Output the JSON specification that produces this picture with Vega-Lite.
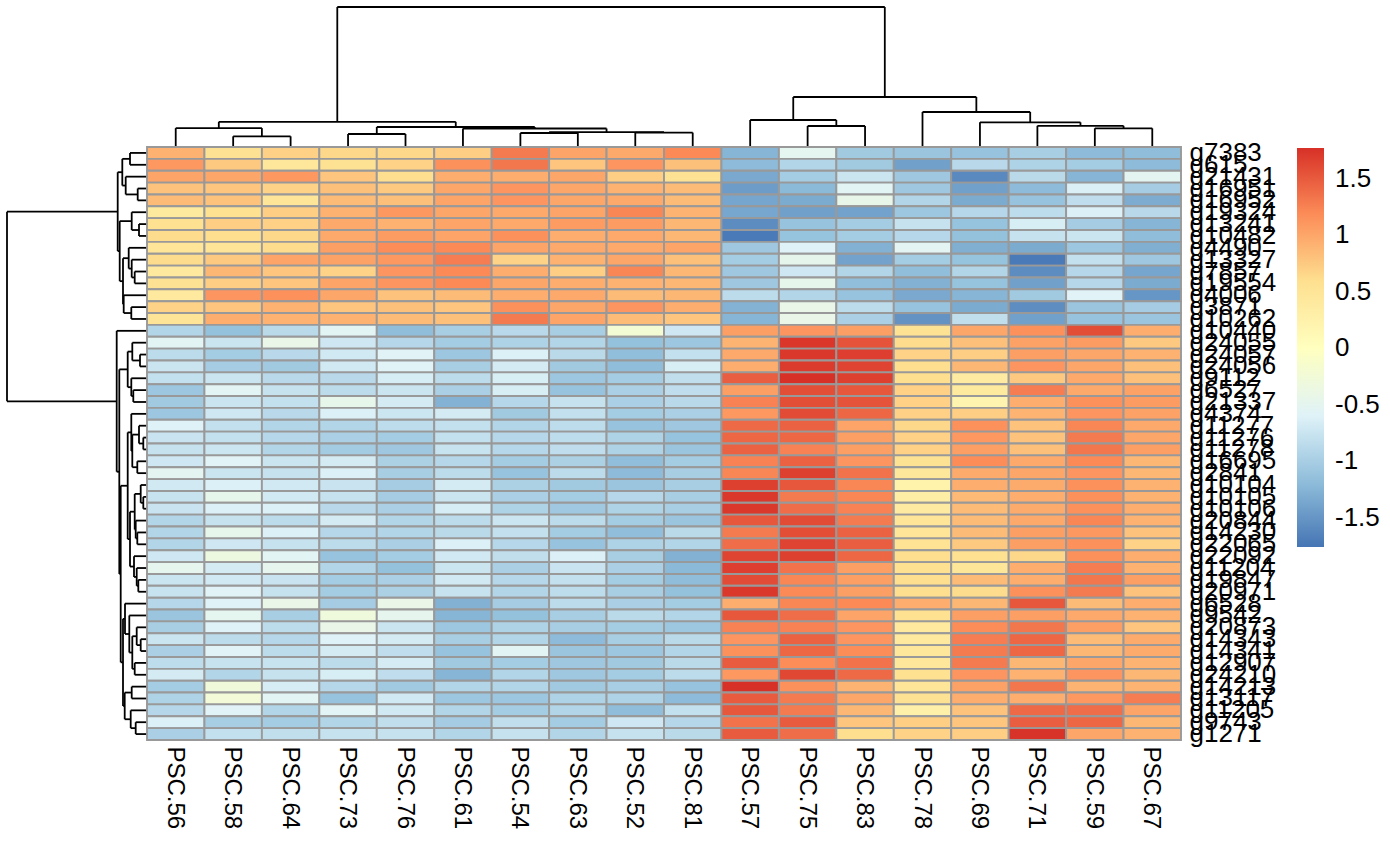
{"$schema":"https://vega.github.io/schema/vega-lite/v6.json","padding":{"left":6,"top":6,"right":0,"bottom":0},"background":"white","config":{"view":{"stroke":null},"font":"Liberation Sans"},"columns":2,"spacing":0,"bounds":"flush","concat":[
{"width":140,"height":140,"data":{"values":[]},"mark":"rect","encoding":{}},
{"width":1034,"height":140,"data":{"values":[
{"a":1.5,"b":2.5,"h":1.07,"ha":0,"hb":0},{"a":0.5,"b":2,"h":1.89,"ha":0,"hb":1.07},{"a":3.5,"b":4.5,"h":1.3,"ha":0,"hb":0},{"a":8.5,"b":9.5,"h":1.44,"ha":0,"hb":0},{"a":6.5,"b":7.5,"h":1.4,"ha":0,"hb":0},{"a":7,"b":9,"h":1.49,"ha":1.4,"hb":1.44},{"a":5.5,"b":8,"h":1.85,"ha":0,"hb":1.49},{"a":4,"b":6.75,"h":2.0,"ha":1.3,"hb":1.85},{"a":1.25,"b":5.375,"h":2.52,"ha":1.89,"hb":2.0},{"a":11.5,"b":12.5,"h":2.1,"ha":0,"hb":0},{"a":10.5,"b":12,"h":2.7,"ha":0,"hb":2.1},{"a":16.5,"b":17.5,"h":1.87,"ha":0,"hb":0},{"a":15.5,"b":17,"h":2.12,"ha":0,"hb":1.87},{"a":14.5,"b":16.25,"h":2.47,"ha":0,"hb":2.12},{"a":13.5,"b":15.375,"h":3.5,"ha":0,"hb":2.47},{"a":11.25,"b":14.4375,"h":5.0,"ha":2.7,"hb":3.5},{"a":3.3125,"b":12.84375,"h":14,"ha":2.52,"hb":5.0}]},
"layer":[
{"mark":{"type":"rule","color":"black","strokeWidth":1.8},"encoding":{"x":{"field":"a","type":"quantitative","scale":{"domain":[0,18]},"axis":null},"x2":{"field":"b"},"y":{"field":"h","type":"quantitative","scale":{"domain":[0,14]},"axis":null}}},
{"mark":{"type":"rule","color":"black","strokeWidth":1.8},"encoding":{"x":{"field":"a","type":"quantitative","scale":{"domain":[0,18]},"axis":null},"y":{"field":"h","type":"quantitative","scale":{"domain":[0,14]},"axis":null},"y2":{"field":"ha"}}},
{"mark":{"type":"rule","color":"black","strokeWidth":1.8},"encoding":{"x":{"field":"b","type":"quantitative","scale":{"domain":[0,18]},"axis":null},"y":{"field":"h","type":"quantitative","scale":{"domain":[0,14]},"axis":null},"y2":{"field":"hb"}}}
]},
{"width":140,"height":593,"data":{"values":[
{"a":0.5,"b":1.5,"h":1.7,"ha":0,"hb":0},{"a":3.5,"b":4.5,"h":0.93,"ha":0,"hb":0},{"a":2.5,"b":4,"h":2.13,"ha":0,"hb":0.93},{"a":1,"b":3.25,"h":2.47,"ha":1.7,"hb":2.13},{"a":6.5,"b":7.5,"h":0.8,"ha":0,"hb":0},{"a":5.5,"b":7,"h":1.53,"ha":0,"hb":0.8},{"a":10.5,"b":11.5,"h":1.23,"ha":0,"hb":0},{"a":9.5,"b":11,"h":1.53,"ha":0,"hb":1.23},{"a":8.5,"b":10.25,"h":1.83,"ha":0,"hb":1.53},{"a":13.5,"b":14.5,"h":1.57,"ha":0,"hb":0},{"a":12.5,"b":14,"h":2.33,"ha":0,"hb":1.57},{"a":9.375,"b":13.25,"h":2.4,"ha":1.83,"hb":2.33},{"a":6.25,"b":11.3125,"h":2.73,"ha":1.53,"hb":2.4},{"a":2.125,"b":8.78,"h":2.93,"ha":2.47,"hb":2.73},{"a":17.5,"b":18.5,"h":0.7,"ha":0,"hb":0},{"a":16.5,"b":18,"h":1.47,"ha":0,"hb":0.7},{"a":20.5,"b":21.5,"h":1.37,"ha":0,"hb":0},{"a":19.5,"b":21,"h":1.57,"ha":0,"hb":1.37},{"a":17.25,"b":20.25,"h":1.93,"ha":1.47,"hb":1.57},{"a":24.5,"b":25.5,"h":0.37,"ha":0,"hb":0},{"a":23.5,"b":25,"h":0.8,"ha":0,"hb":0.37},{"a":26.5,"b":27.5,"h":0.97,"ha":0,"hb":0},{"a":24.25,"b":27,"h":1.47,"ha":0.8,"hb":0.97},{"a":22.5,"b":25.625,"h":1.57,"ha":0,"hb":1.47},{"a":29.5,"b":30.5,"h":0.37,"ha":0,"hb":0},{"a":28.5,"b":30,"h":0.63,"ha":0,"hb":0.37},{"a":32.5,"b":33.5,"h":0.97,"ha":0,"hb":0},{"a":31.5,"b":33,"h":1.13,"ha":0,"hb":0.97},{"a":29.25,"b":32.25,"h":1.23,"ha":0.63,"hb":1.13},{"a":36.5,"b":37.5,"h":0.87,"ha":0,"hb":0},{"a":35.5,"b":37,"h":1.03,"ha":0,"hb":0.87},{"a":34.5,"b":36.25,"h":1.3,"ha":0,"hb":1.03},{"a":30.75,"b":35.375,"h":1.7,"ha":1.23,"hb":1.3},{"a":24.0625,"b":33.0625,"h":1.93,"ha":1.57,"hb":1.7},{"a":41.5,"b":42.5,"h":0.63,"ha":0,"hb":0},{"a":40.5,"b":42,"h":1.03,"ha":0,"hb":0.63},{"a":43.5,"b":44.5,"h":1.23,"ha":0,"hb":0},{"a":41.25,"b":44,"h":1.47,"ha":1.03,"hb":1.23},{"a":39.5,"b":42.625,"h":1.77,"ha":0,"hb":1.47},{"a":38.5,"b":41.0625,"h":2.2,"ha":0,"hb":1.77},{"a":45.5,"b":46.5,"h":1.53,"ha":0,"hb":0},{"a":48.5,"b":49.5,"h":1.13,"ha":0,"hb":0},{"a":47.5,"b":49,"h":1.63,"ha":0,"hb":1.13},{"a":46,"b":48.25,"h":2.23,"ha":1.53,"hb":1.63},{"a":39.78,"b":47.125,"h":2.4,"ha":2.2,"hb":2.23},{"a":28.5625,"b":43.45,"h":2.63,"ha":1.93,"hb":2.4},{"a":18.75,"b":36,"h":2.77,"ha":1.93,"hb":2.63},{"a":15.5,"b":27.38,"h":3.03,"ha":0,"hb":2.77},{"a":5.45,"b":21.44,"h":14,"ha":2.93,"hb":3.03}]},
"layer":[
{"mark":{"type":"rule","color":"black","strokeWidth":1.8},"encoding":{"y":{"field":"a","type":"quantitative","scale":{"domain":[0,50],"reverse":true},"axis":null},"y2":{"field":"b"},"x":{"field":"h","type":"quantitative","scale":{"domain":[0,14],"reverse":true},"axis":null}}},
{"mark":{"type":"rule","color":"black","strokeWidth":1.8},"encoding":{"y":{"field":"a","type":"quantitative","scale":{"domain":[0,50],"reverse":true},"axis":null},"x":{"field":"h","type":"quantitative","scale":{"domain":[0,14],"reverse":true},"axis":null},"x2":{"field":"ha"}}},
{"mark":{"type":"rule","color":"black","strokeWidth":1.8},"encoding":{"y":{"field":"b","type":"quantitative","scale":{"domain":[0,50],"reverse":true},"axis":null},"x":{"field":"h","type":"quantitative","scale":{"domain":[0,14],"reverse":true},"axis":null},"x2":{"field":"hb"}}}
]},
{"width":1034,"height":593,"data":{"values":[
{"g":"g7383","s":"PSC.56","v":0.92},{"g":"g7383","s":"PSC.58","v":0.55},{"g":"g7383","s":"PSC.64","v":0.7},{"g":"g7383","s":"PSC.73","v":0.65},{"g":"g7383","s":"PSC.76","v":0.65},{"g":"g7383","s":"PSC.61","v":0.72},{"g":"g7383","s":"PSC.54","v":1.3},{"g":"g7383","s":"PSC.63","v":1.02},{"g":"g7383","s":"PSC.52","v":0.98},{"g":"g7383","s":"PSC.81","v":1.2},{"g":"g7383","s":"PSC.57","v":-1.25},{"g":"g7383","s":"PSC.75","v":-0.5},{"g":"g7383","s":"PSC.83","v":-1.05},{"g":"g7383","s":"PSC.78","v":-1.1},{"g":"g7383","s":"PSC.69","v":-1.12},{"g":"g7383","s":"PSC.71","v":-1.0},{"g":"g7383","s":"PSC.59","v":-1.2},{"g":"g7383","s":"PSC.67","v":-1.18},
{"g":"g615","s":"PSC.56","v":1.1},{"g":"g615","s":"PSC.58","v":0.75},{"g":"g615","s":"PSC.64","v":0.45},{"g":"g615","s":"PSC.73","v":0.55},{"g":"g615","s":"PSC.76","v":0.68},{"g":"g615","s":"PSC.61","v":1.15},{"g":"g615","s":"PSC.54","v":1.32},{"g":"g615","s":"PSC.63","v":0.78},{"g":"g615","s":"PSC.52","v":1.12},{"g":"g615","s":"PSC.81","v":0.82},{"g":"g615","s":"PSC.57","v":-1.2},{"g":"g615","s":"PSC.75","v":-0.92},{"g":"g615","s":"PSC.83","v":-1.05},{"g":"g615","s":"PSC.78","v":-1.42},{"g":"g615","s":"PSC.69","v":-0.88},{"g":"g615","s":"PSC.71","v":-0.95},{"g":"g615","s":"PSC.59","v":-1.03},{"g":"g615","s":"PSC.67","v":-1.2},
{"g":"g21431","s":"PSC.56","v":1.02},{"g":"g21431","s":"PSC.58","v":1.0},{"g":"g21431","s":"PSC.64","v":1.1},{"g":"g21431","s":"PSC.73","v":0.78},{"g":"g21431","s":"PSC.76","v":0.6},{"g":"g21431","s":"PSC.61","v":0.95},{"g":"g21431","s":"PSC.54","v":0.95},{"g":"g21431","s":"PSC.63","v":1.0},{"g":"g21431","s":"PSC.52","v":0.72},{"g":"g21431","s":"PSC.81","v":0.55},{"g":"g21431","s":"PSC.57","v":-1.35},{"g":"g21431","s":"PSC.75","v":-1.03},{"g":"g21431","s":"PSC.83","v":-0.75},{"g":"g21431","s":"PSC.78","v":-1.07},{"g":"g21431","s":"PSC.69","v":-1.6},{"g":"g21431","s":"PSC.71","v":-0.87},{"g":"g21431","s":"PSC.59","v":-1.25},{"g":"g21431","s":"PSC.67","v":-0.52},
{"g":"g16951","s":"PSC.56","v":0.8},{"g":"g16951","s":"PSC.58","v":0.78},{"g":"g16951","s":"PSC.64","v":0.68},{"g":"g16951","s":"PSC.73","v":0.82},{"g":"g16951","s":"PSC.76","v":0.76},{"g":"g16951","s":"PSC.61","v":1.0},{"g":"g16951","s":"PSC.54","v":1.12},{"g":"g16951","s":"PSC.63","v":1.0},{"g":"g16951","s":"PSC.52","v":0.92},{"g":"g16951","s":"PSC.81","v":0.85},{"g":"g16951","s":"PSC.57","v":-1.45},{"g":"g16951","s":"PSC.75","v":-1.22},{"g":"g16951","s":"PSC.83","v":-0.55},{"g":"g16951","s":"PSC.78","v":-1.07},{"g":"g16951","s":"PSC.69","v":-1.42},{"g":"g16951","s":"PSC.71","v":-1.2},{"g":"g16951","s":"PSC.59","v":-0.63},{"g":"g16951","s":"PSC.67","v":-1.02},
{"g":"g16952","s":"PSC.56","v":0.85},{"g":"g16952","s":"PSC.58","v":0.8},{"g":"g16952","s":"PSC.64","v":0.5},{"g":"g16952","s":"PSC.73","v":0.85},{"g":"g16952","s":"PSC.76","v":0.82},{"g":"g16952","s":"PSC.61","v":1.02},{"g":"g16952","s":"PSC.54","v":1.12},{"g":"g16952","s":"PSC.63","v":1.0},{"g":"g16952","s":"PSC.52","v":0.98},{"g":"g16952","s":"PSC.81","v":0.85},{"g":"g16952","s":"PSC.57","v":-1.38},{"g":"g16952","s":"PSC.75","v":-1.33},{"g":"g16952","s":"PSC.83","v":-0.43},{"g":"g16952","s":"PSC.78","v":-0.93},{"g":"g16952","s":"PSC.69","v":-1.33},{"g":"g16952","s":"PSC.71","v":-1.12},{"g":"g16952","s":"PSC.59","v":-0.83},{"g":"g16952","s":"PSC.67","v":-1.32},
{"g":"g19324","s":"PSC.56","v":0.4},{"g":"g19324","s":"PSC.58","v":0.58},{"g":"g19324","s":"PSC.64","v":0.72},{"g":"g19324","s":"PSC.73","v":0.92},{"g":"g19324","s":"PSC.76","v":1.1},{"g":"g19324","s":"PSC.61","v":1.0},{"g":"g19324","s":"PSC.54","v":0.98},{"g":"g19324","s":"PSC.63","v":1.02},{"g":"g19324","s":"PSC.52","v":1.22},{"g":"g19324","s":"PSC.81","v":0.9},{"g":"g19324","s":"PSC.57","v":-1.37},{"g":"g19324","s":"PSC.75","v":-1.42},{"g":"g19324","s":"PSC.83","v":-1.4},{"g":"g19324","s":"PSC.78","v":-1.08},{"g":"g19324","s":"PSC.69","v":-0.9},{"g":"g19324","s":"PSC.71","v":-0.84},{"g":"g19324","s":"PSC.59","v":-0.62},{"g":"g19324","s":"PSC.67","v":-0.88},
{"g":"g13241","s":"PSC.56","v":0.58},{"g":"g13241","s":"PSC.58","v":0.72},{"g":"g13241","s":"PSC.64","v":0.7},{"g":"g13241","s":"PSC.73","v":0.98},{"g":"g13241","s":"PSC.76","v":0.92},{"g":"g13241","s":"PSC.61","v":1.02},{"g":"g13241","s":"PSC.54","v":0.98},{"g":"g13241","s":"PSC.63","v":1.08},{"g":"g13241","s":"PSC.52","v":1.08},{"g":"g13241","s":"PSC.81","v":0.88},{"g":"g13241","s":"PSC.57","v":-1.58},{"g":"g13241","s":"PSC.75","v":-1.12},{"g":"g13241","s":"PSC.83","v":-1.03},{"g":"g13241","s":"PSC.78","v":-0.78},{"g":"g13241","s":"PSC.69","v":-1.13},{"g":"g13241","s":"PSC.71","v":-0.65},{"g":"g13241","s":"PSC.59","v":-1.02},{"g":"g13241","s":"PSC.67","v":-1.25},
{"g":"g10482","s":"PSC.56","v":0.62},{"g":"g10482","s":"PSC.58","v":0.6},{"g":"g10482","s":"PSC.64","v":0.65},{"g":"g10482","s":"PSC.73","v":0.98},{"g":"g10482","s":"PSC.76","v":1.08},{"g":"g10482","s":"PSC.61","v":1.02},{"g":"g10482","s":"PSC.54","v":1.15},{"g":"g10482","s":"PSC.63","v":0.95},{"g":"g10482","s":"PSC.52","v":0.98},{"g":"g10482","s":"PSC.81","v":0.88},{"g":"g10482","s":"PSC.57","v":-1.72},{"g":"g10482","s":"PSC.75","v":-1.13},{"g":"g10482","s":"PSC.83","v":-1.03},{"g":"g10482","s":"PSC.78","v":-0.9},{"g":"g10482","s":"PSC.69","v":-1.15},{"g":"g10482","s":"PSC.71","v":-0.78},{"g":"g10482","s":"PSC.59","v":-0.75},{"g":"g10482","s":"PSC.67","v":-1.18},
{"g":"g4490","s":"PSC.56","v":0.5},{"g":"g4490","s":"PSC.58","v":0.52},{"g":"g4490","s":"PSC.64","v":0.62},{"g":"g4490","s":"PSC.73","v":1.05},{"g":"g4490","s":"PSC.76","v":1.18},{"g":"g4490","s":"PSC.61","v":1.2},{"g":"g4490","s":"PSC.54","v":1.02},{"g":"g4490","s":"PSC.63","v":0.98},{"g":"g4490","s":"PSC.52","v":0.98},{"g":"g4490","s":"PSC.81","v":1.02},{"g":"g4490","s":"PSC.57","v":-1.07},{"g":"g4490","s":"PSC.75","v":-0.6},{"g":"g4490","s":"PSC.83","v":-1.28},{"g":"g4490","s":"PSC.78","v":-0.53},{"g":"g4490","s":"PSC.69","v":-1.3},{"g":"g4490","s":"PSC.71","v":-1.33},{"g":"g4490","s":"PSC.59","v":-1.08},{"g":"g4490","s":"PSC.67","v":-1.3},
{"g":"g13327","s":"PSC.56","v":0.62},{"g":"g13327","s":"PSC.58","v":0.75},{"g":"g13327","s":"PSC.64","v":1.02},{"g":"g13327","s":"PSC.73","v":1.03},{"g":"g13327","s":"PSC.76","v":1.1},{"g":"g13327","s":"PSC.61","v":1.28},{"g":"g13327","s":"PSC.54","v":0.68},{"g":"g13327","s":"PSC.63","v":0.92},{"g":"g13327","s":"PSC.52","v":1.0},{"g":"g13327","s":"PSC.81","v":0.82},{"g":"g13327","s":"PSC.57","v":-1.03},{"g":"g13327","s":"PSC.75","v":-0.47},{"g":"g13327","s":"PSC.83","v":-1.4},{"g":"g13327","s":"PSC.78","v":-1.03},{"g":"g13327","s":"PSC.69","v":-1.13},{"g":"g13327","s":"PSC.71","v":-1.72},{"g":"g13327","s":"PSC.59","v":-0.8},{"g":"g13327","s":"PSC.67","v":-1.07},
{"g":"g7857","s":"PSC.56","v":0.42},{"g":"g7857","s":"PSC.58","v":0.88},{"g":"g7857","s":"PSC.64","v":0.78},{"g":"g7857","s":"PSC.73","v":0.68},{"g":"g7857","s":"PSC.76","v":1.12},{"g":"g7857","s":"PSC.61","v":1.2},{"g":"g7857","s":"PSC.54","v":0.95},{"g":"g7857","s":"PSC.63","v":0.72},{"g":"g7857","s":"PSC.52","v":1.22},{"g":"g7857","s":"PSC.81","v":0.88},{"g":"g7857","s":"PSC.57","v":-1.07},{"g":"g7857","s":"PSC.75","v":-0.72},{"g":"g7857","s":"PSC.83","v":-0.93},{"g":"g7857","s":"PSC.78","v":-1.17},{"g":"g7857","s":"PSC.69","v":-0.93},{"g":"g7857","s":"PSC.71","v":-1.58},{"g":"g7857","s":"PSC.59","v":-0.9},{"g":"g7857","s":"PSC.67","v":-1.38},
{"g":"g19554","s":"PSC.56","v":0.55},{"g":"g19554","s":"PSC.58","v":0.72},{"g":"g19554","s":"PSC.64","v":0.78},{"g":"g19554","s":"PSC.73","v":1.02},{"g":"g19554","s":"PSC.76","v":1.12},{"g":"g19554","s":"PSC.61","v":1.2},{"g":"g19554","s":"PSC.54","v":1.0},{"g":"g19554","s":"PSC.63","v":0.95},{"g":"g19554","s":"PSC.52","v":0.92},{"g":"g19554","s":"PSC.81","v":0.88},{"g":"g19554","s":"PSC.57","v":-1.07},{"g":"g19554","s":"PSC.75","v":-0.45},{"g":"g19554","s":"PSC.83","v":-1.17},{"g":"g19554","s":"PSC.78","v":-1.28},{"g":"g19554","s":"PSC.69","v":-1.13},{"g":"g19554","s":"PSC.71","v":-1.42},{"g":"g19554","s":"PSC.59","v":-0.9},{"g":"g19554","s":"PSC.67","v":-1.33},
{"g":"g4006","s":"PSC.56","v":0.42},{"g":"g4006","s":"PSC.58","v":1.12},{"g":"g4006","s":"PSC.64","v":1.15},{"g":"g4006","s":"PSC.73","v":1.0},{"g":"g4006","s":"PSC.76","v":0.8},{"g":"g4006","s":"PSC.61","v":0.85},{"g":"g4006","s":"PSC.54","v":0.95},{"g":"g4006","s":"PSC.63","v":0.98},{"g":"g4006","s":"PSC.52","v":0.85},{"g":"g4006","s":"PSC.81","v":0.88},{"g":"g4006","s":"PSC.57","v":-0.85},{"g":"g4006","s":"PSC.75","v":-0.92},{"g":"g4006","s":"PSC.83","v":-1.12},{"g":"g4006","s":"PSC.78","v":-1.35},{"g":"g4006","s":"PSC.69","v":-1.25},{"g":"g4006","s":"PSC.71","v":-1.05},{"g":"g4006","s":"PSC.59","v":-0.58},{"g":"g4006","s":"PSC.67","v":-1.5},
{"g":"g3871","s":"PSC.56","v":0.68},{"g":"g3871","s":"PSC.58","v":0.78},{"g":"g3871","s":"PSC.64","v":0.92},{"g":"g3871","s":"PSC.73","v":0.78},{"g":"g3871","s":"PSC.76","v":0.82},{"g":"g3871","s":"PSC.61","v":0.78},{"g":"g3871","s":"PSC.54","v":1.15},{"g":"g3871","s":"PSC.63","v":1.0},{"g":"g3871","s":"PSC.52","v":1.12},{"g":"g3871","s":"PSC.81","v":0.95},{"g":"g3871","s":"PSC.57","v":-1.27},{"g":"g3871","s":"PSC.75","v":-0.42},{"g":"g3871","s":"PSC.83","v":-0.85},{"g":"g3871","s":"PSC.78","v":-1.12},{"g":"g3871","s":"PSC.69","v":-1.33},{"g":"g3871","s":"PSC.71","v":-1.57},{"g":"g3871","s":"PSC.59","v":-1.1},{"g":"g3871","s":"PSC.67","v":-1.02},
{"g":"g10262","s":"PSC.56","v":0.52},{"g":"g10262","s":"PSC.58","v":0.95},{"g":"g10262","s":"PSC.64","v":0.92},{"g":"g10262","s":"PSC.73","v":0.92},{"g":"g10262","s":"PSC.76","v":0.85},{"g":"g10262","s":"PSC.61","v":0.82},{"g":"g10262","s":"PSC.54","v":1.3},{"g":"g10262","s":"PSC.63","v":1.02},{"g":"g10262","s":"PSC.52","v":0.85},{"g":"g10262","s":"PSC.81","v":0.78},{"g":"g10262","s":"PSC.57","v":-1.25},{"g":"g10262","s":"PSC.75","v":-0.42},{"g":"g10262","s":"PSC.83","v":-0.98},{"g":"g10262","s":"PSC.78","v":-1.53},{"g":"g10262","s":"PSC.69","v":-0.82},{"g":"g10262","s":"PSC.71","v":-1.42},{"g":"g10262","s":"PSC.59","v":-1.12},{"g":"g10262","s":"PSC.67","v":-1.1},
{"g":"g10440","s":"PSC.56","v":-0.92},{"g":"g10440","s":"PSC.58","v":-1.15},{"g":"g10440","s":"PSC.64","v":-0.87},{"g":"g10440","s":"PSC.73","v":-0.55},{"g":"g10440","s":"PSC.76","v":-1.18},{"g":"g10440","s":"PSC.61","v":-1.0},{"g":"g10440","s":"PSC.54","v":-0.88},{"g":"g10440","s":"PSC.63","v":-1.0},{"g":"g10440","s":"PSC.52","v":-0.22},{"g":"g10440","s":"PSC.81","v":-0.72},{"g":"g10440","s":"PSC.57","v":1.05},{"g":"g10440","s":"PSC.75","v":1.12},{"g":"g10440","s":"PSC.83","v":1.05},{"g":"g10440","s":"PSC.78","v":0.55},{"g":"g10440","s":"PSC.69","v":1.0},{"g":"g10440","s":"PSC.71","v":1.15},{"g":"g10440","s":"PSC.59","v":1.58},{"g":"g10440","s":"PSC.67","v":0.95},
{"g":"g24055","s":"PSC.56","v":-0.55},{"g":"g24055","s":"PSC.58","v":-0.75},{"g":"g24055","s":"PSC.64","v":-0.42},{"g":"g24055","s":"PSC.73","v":-0.72},{"g":"g24055","s":"PSC.76","v":-0.9},{"g":"g24055","s":"PSC.61","v":-1.03},{"g":"g24055","s":"PSC.54","v":-0.95},{"g":"g24055","s":"PSC.63","v":-0.93},{"g":"g24055","s":"PSC.52","v":-1.15},{"g":"g24055","s":"PSC.81","v":-1.08},{"g":"g24055","s":"PSC.57","v":0.9},{"g":"g24055","s":"PSC.75","v":1.73},{"g":"g24055","s":"PSC.83","v":1.55},{"g":"g24055","s":"PSC.78","v":0.62},{"g":"g24055","s":"PSC.69","v":0.82},{"g":"g24055","s":"PSC.71","v":1.03},{"g":"g24055","s":"PSC.59","v":1.08},{"g":"g24055","s":"PSC.67","v":0.75},
{"g":"g24057","s":"PSC.56","v":-0.85},{"g":"g24057","s":"PSC.58","v":-1.03},{"g":"g24057","s":"PSC.64","v":-0.88},{"g":"g24057","s":"PSC.73","v":-0.7},{"g":"g24057","s":"PSC.76","v":-0.58},{"g":"g24057","s":"PSC.61","v":-1.08},{"g":"g24057","s":"PSC.54","v":-0.62},{"g":"g24057","s":"PSC.63","v":-0.87},{"g":"g24057","s":"PSC.52","v":-1.17},{"g":"g24057","s":"PSC.81","v":-0.8},{"g":"g24057","s":"PSC.57","v":0.98},{"g":"g24057","s":"PSC.75","v":1.72},{"g":"g24057","s":"PSC.83","v":1.68},{"g":"g24057","s":"PSC.78","v":0.68},{"g":"g24057","s":"PSC.69","v":0.72},{"g":"g24057","s":"PSC.71","v":1.05},{"g":"g24057","s":"PSC.59","v":1.0},{"g":"g24057","s":"PSC.67","v":0.92},
{"g":"g24056","s":"PSC.56","v":-0.75},{"g":"g24056","s":"PSC.58","v":-1.02},{"g":"g24056","s":"PSC.64","v":-1.05},{"g":"g24056","s":"PSC.73","v":-0.7},{"g":"g24056","s":"PSC.76","v":-0.57},{"g":"g24056","s":"PSC.61","v":-1.0},{"g":"g24056","s":"PSC.54","v":-0.68},{"g":"g24056","s":"PSC.63","v":-1.05},{"g":"g24056","s":"PSC.52","v":-1.18},{"g":"g24056","s":"PSC.81","v":-0.65},{"g":"g24056","s":"PSC.57","v":0.95},{"g":"g24056","s":"PSC.75","v":1.7},{"g":"g24056","s":"PSC.83","v":1.65},{"g":"g24056","s":"PSC.78","v":0.6},{"g":"g24056","s":"PSC.69","v":0.88},{"g":"g24056","s":"PSC.71","v":1.12},{"g":"g24056","s":"PSC.59","v":1.0},{"g":"g24056","s":"PSC.67","v":0.82},
{"g":"g9112","s":"PSC.56","v":-0.8},{"g":"g9112","s":"PSC.58","v":-0.75},{"g":"g9112","s":"PSC.64","v":-0.88},{"g":"g9112","s":"PSC.73","v":-0.88},{"g":"g9112","s":"PSC.76","v":-0.66},{"g":"g9112","s":"PSC.61","v":-0.85},{"g":"g9112","s":"PSC.54","v":-0.65},{"g":"g9112","s":"PSC.63","v":-1.08},{"g":"g9112","s":"PSC.52","v":-1.03},{"g":"g9112","s":"PSC.81","v":-0.82},{"g":"g9112","s":"PSC.57","v":1.48},{"g":"g9112","s":"PSC.75","v":1.77},{"g":"g9112","s":"PSC.83","v":1.67},{"g":"g9112","s":"PSC.78","v":0.6},{"g":"g9112","s":"PSC.69","v":0.38},{"g":"g9112","s":"PSC.71","v":0.75},{"g":"g9112","s":"PSC.59","v":0.98},{"g":"g9112","s":"PSC.67","v":0.82},
{"g":"g6527","s":"PSC.56","v":-1.08},{"g":"g6527","s":"PSC.58","v":-0.55},{"g":"g6527","s":"PSC.64","v":-0.78},{"g":"g6527","s":"PSC.73","v":-0.85},{"g":"g6527","s":"PSC.76","v":-0.75},{"g":"g6527","s":"PSC.61","v":-0.98},{"g":"g6527","s":"PSC.54","v":-0.65},{"g":"g6527","s":"PSC.63","v":-1.12},{"g":"g6527","s":"PSC.52","v":-0.98},{"g":"g6527","s":"PSC.81","v":-0.83},{"g":"g6527","s":"PSC.57","v":1.05},{"g":"g6527","s":"PSC.75","v":1.58},{"g":"g6527","s":"PSC.83","v":1.52},{"g":"g6527","s":"PSC.78","v":0.7},{"g":"g6527","s":"PSC.69","v":0.4},{"g":"g6527","s":"PSC.71","v":1.28},{"g":"g6527","s":"PSC.59","v":0.98},{"g":"g6527","s":"PSC.67","v":1.03},
{"g":"g21337","s":"PSC.56","v":-1.05},{"g":"g21337","s":"PSC.58","v":-0.75},{"g":"g21337","s":"PSC.64","v":-0.8},{"g":"g21337","s":"PSC.73","v":-0.45},{"g":"g21337","s":"PSC.76","v":-0.68},{"g":"g21337","s":"PSC.61","v":-1.27},{"g":"g21337","s":"PSC.54","v":-0.9},{"g":"g21337","s":"PSC.63","v":-0.78},{"g":"g21337","s":"PSC.52","v":-0.98},{"g":"g21337","s":"PSC.81","v":-0.88},{"g":"g21337","s":"PSC.57","v":1.25},{"g":"g21337","s":"PSC.75","v":1.58},{"g":"g21337","s":"PSC.83","v":1.55},{"g":"g21337","s":"PSC.78","v":0.7},{"g":"g21337","s":"PSC.69","v":0.2},{"g":"g21337","s":"PSC.71","v":0.95},{"g":"g21337","s":"PSC.59","v":1.15},{"g":"g21337","s":"PSC.67","v":1.08},
{"g":"g4374","s":"PSC.56","v":-1.08},{"g":"g4374","s":"PSC.58","v":-0.72},{"g":"g4374","s":"PSC.64","v":-0.88},{"g":"g4374","s":"PSC.73","v":-0.62},{"g":"g4374","s":"PSC.76","v":-0.74},{"g":"g4374","s":"PSC.61","v":-0.68},{"g":"g4374","s":"PSC.54","v":-1.05},{"g":"g4374","s":"PSC.63","v":-0.8},{"g":"g4374","s":"PSC.52","v":-1.03},{"g":"g4374","s":"PSC.81","v":-0.98},{"g":"g4374","s":"PSC.57","v":1.1},{"g":"g4374","s":"PSC.75","v":1.6},{"g":"g4374","s":"PSC.83","v":1.42},{"g":"g4374","s":"PSC.78","v":0.7},{"g":"g4374","s":"PSC.69","v":0.72},{"g":"g4374","s":"PSC.71","v":0.9},{"g":"g4374","s":"PSC.59","v":1.12},{"g":"g4374","s":"PSC.67","v":1.03},
{"g":"g11277","s":"PSC.56","v":-0.6},{"g":"g11277","s":"PSC.58","v":-0.8},{"g":"g11277","s":"PSC.64","v":-0.93},{"g":"g11277","s":"PSC.73","v":-0.92},{"g":"g11277","s":"PSC.76","v":-0.84},{"g":"g11277","s":"PSC.61","v":-0.8},{"g":"g11277","s":"PSC.54","v":-0.93},{"g":"g11277","s":"PSC.63","v":-0.84},{"g":"g11277","s":"PSC.52","v":-1.12},{"g":"g11277","s":"PSC.81","v":-1.07},{"g":"g11277","s":"PSC.57","v":1.4},{"g":"g11277","s":"PSC.75","v":1.45},{"g":"g11277","s":"PSC.83","v":1.02},{"g":"g11277","s":"PSC.78","v":0.65},{"g":"g11277","s":"PSC.69","v":1.15},{"g":"g11277","s":"PSC.71","v":0.8},{"g":"g11277","s":"PSC.59","v":1.22},{"g":"g11277","s":"PSC.67","v":0.98},
{"g":"g11276","s":"PSC.56","v":-0.76},{"g":"g11276","s":"PSC.58","v":-0.8},{"g":"g11276","s":"PSC.64","v":-0.9},{"g":"g11276","s":"PSC.73","v":-0.98},{"g":"g11276","s":"PSC.76","v":-1.03},{"g":"g11276","s":"PSC.61","v":-0.8},{"g":"g11276","s":"PSC.54","v":-0.9},{"g":"g11276","s":"PSC.63","v":-0.84},{"g":"g11276","s":"PSC.52","v":-0.95},{"g":"g11276","s":"PSC.81","v":-1.13},{"g":"g11276","s":"PSC.57","v":1.42},{"g":"g11276","s":"PSC.75","v":1.42},{"g":"g11276","s":"PSC.83","v":1.05},{"g":"g11276","s":"PSC.78","v":0.7},{"g":"g11276","s":"PSC.69","v":1.1},{"g":"g11276","s":"PSC.71","v":0.8},{"g":"g11276","s":"PSC.59","v":1.3},{"g":"g11276","s":"PSC.67","v":1.0},
{"g":"g11278","s":"PSC.56","v":-0.78},{"g":"g11278","s":"PSC.58","v":-0.74},{"g":"g11278","s":"PSC.64","v":-0.93},{"g":"g11278","s":"PSC.73","v":-1.04},{"g":"g11278","s":"PSC.76","v":-1.07},{"g":"g11278","s":"PSC.61","v":-0.77},{"g":"g11278","s":"PSC.54","v":-0.9},{"g":"g11278","s":"PSC.63","v":-0.83},{"g":"g11278","s":"PSC.52","v":-0.95},{"g":"g11278","s":"PSC.81","v":-1.1},{"g":"g11278","s":"PSC.57","v":1.45},{"g":"g11278","s":"PSC.75","v":1.25},{"g":"g11278","s":"PSC.83","v":1.05},{"g":"g11278","s":"PSC.78","v":0.7},{"g":"g11278","s":"PSC.69","v":1.05},{"g":"g11278","s":"PSC.71","v":0.82},{"g":"g11278","s":"PSC.59","v":1.32},{"g":"g11278","s":"PSC.67","v":1.05},
{"g":"g16695","s":"PSC.56","v":-0.72},{"g":"g16695","s":"PSC.58","v":-0.57},{"g":"g16695","s":"PSC.64","v":-0.75},{"g":"g16695","s":"PSC.73","v":-0.68},{"g":"g16695","s":"PSC.76","v":-0.97},{"g":"g16695","s":"PSC.61","v":-0.9},{"g":"g16695","s":"PSC.54","v":-1.03},{"g":"g16695","s":"PSC.63","v":-0.97},{"g":"g16695","s":"PSC.52","v":-1.17},{"g":"g16695","s":"PSC.81","v":-1.03},{"g":"g16695","s":"PSC.57","v":1.25},{"g":"g16695","s":"PSC.75","v":1.45},{"g":"g16695","s":"PSC.83","v":1.12},{"g":"g16695","s":"PSC.78","v":0.55},{"g":"g16695","s":"PSC.69","v":1.18},{"g":"g16695","s":"PSC.71","v":0.98},{"g":"g16695","s":"PSC.59","v":1.2},{"g":"g16695","s":"PSC.67","v":0.88},
{"g":"g2841","s":"PSC.56","v":-0.52},{"g":"g2841","s":"PSC.58","v":-0.75},{"g":"g2841","s":"PSC.64","v":-0.78},{"g":"g2841","s":"PSC.73","v":-0.62},{"g":"g2841","s":"PSC.76","v":-1.0},{"g":"g2841","s":"PSC.61","v":-0.85},{"g":"g2841","s":"PSC.54","v":-1.12},{"g":"g2841","s":"PSC.63","v":-0.85},{"g":"g2841","s":"PSC.52","v":-1.2},{"g":"g2841","s":"PSC.81","v":-1.0},{"g":"g2841","s":"PSC.57","v":1.22},{"g":"g2841","s":"PSC.75","v":1.67},{"g":"g2841","s":"PSC.83","v":1.35},{"g":"g2841","s":"PSC.78","v":0.45},{"g":"g2841","s":"PSC.69","v":0.97},{"g":"g2841","s":"PSC.71","v":1.0},{"g":"g2841","s":"PSC.59","v":1.12},{"g":"g2841","s":"PSC.67","v":0.88},
{"g":"g10104","s":"PSC.56","v":-0.7},{"g":"g10104","s":"PSC.58","v":-0.62},{"g":"g10104","s":"PSC.64","v":-0.7},{"g":"g10104","s":"PSC.73","v":-0.76},{"g":"g10104","s":"PSC.76","v":-1.02},{"g":"g10104","s":"PSC.61","v":-0.68},{"g":"g10104","s":"PSC.54","v":-0.97},{"g":"g10104","s":"PSC.63","v":-1.05},{"g":"g10104","s":"PSC.52","v":-1.1},{"g":"g10104","s":"PSC.81","v":-1.0},{"g":"g10104","s":"PSC.57","v":1.67},{"g":"g10104","s":"PSC.75","v":1.52},{"g":"g10104","s":"PSC.83","v":1.22},{"g":"g10104","s":"PSC.78","v":0.25},{"g":"g10104","s":"PSC.69","v":0.95},{"g":"g10104","s":"PSC.71","v":0.97},{"g":"g10104","s":"PSC.59","v":1.15},{"g":"g10104","s":"PSC.67","v":0.92},
{"g":"g10105","s":"PSC.56","v":-0.77},{"g":"g10105","s":"PSC.58","v":-0.45},{"g":"g10105","s":"PSC.64","v":-0.7},{"g":"g10105","s":"PSC.73","v":-0.78},{"g":"g10105","s":"PSC.76","v":-1.02},{"g":"g10105","s":"PSC.61","v":-0.75},{"g":"g10105","s":"PSC.54","v":-0.98},{"g":"g10105","s":"PSC.63","v":-1.03},{"g":"g10105","s":"PSC.52","v":-0.9},{"g":"g10105","s":"PSC.81","v":-1.0},{"g":"g10105","s":"PSC.57","v":1.72},{"g":"g10105","s":"PSC.75","v":1.3},{"g":"g10105","s":"PSC.83","v":1.22},{"g":"g10105","s":"PSC.78","v":0.33},{"g":"g10105","s":"PSC.69","v":0.87},{"g":"g10105","s":"PSC.71","v":0.95},{"g":"g10105","s":"PSC.59","v":1.15},{"g":"g10105","s":"PSC.67","v":0.92},
{"g":"g10106","s":"PSC.56","v":-0.76},{"g":"g10106","s":"PSC.58","v":-0.62},{"g":"g10106","s":"PSC.64","v":-0.62},{"g":"g10106","s":"PSC.73","v":-0.88},{"g":"g10106","s":"PSC.76","v":-0.98},{"g":"g10106","s":"PSC.61","v":-0.66},{"g":"g10106","s":"PSC.54","v":-0.95},{"g":"g10106","s":"PSC.63","v":-1.06},{"g":"g10106","s":"PSC.52","v":-0.95},{"g":"g10106","s":"PSC.81","v":-1.0},{"g":"g10106","s":"PSC.57","v":1.72},{"g":"g10106","s":"PSC.75","v":1.38},{"g":"g10106","s":"PSC.83","v":1.25},{"g":"g10106","s":"PSC.78","v":0.38},{"g":"g10106","s":"PSC.69","v":0.85},{"g":"g10106","s":"PSC.71","v":0.97},{"g":"g10106","s":"PSC.59","v":1.15},{"g":"g10106","s":"PSC.67","v":0.95},
{"g":"g20844","s":"PSC.56","v":-0.92},{"g":"g20844","s":"PSC.58","v":-0.78},{"g":"g20844","s":"PSC.64","v":-0.85},{"g":"g20844","s":"PSC.73","v":-0.68},{"g":"g20844","s":"PSC.76","v":-0.93},{"g":"g20844","s":"PSC.61","v":-0.85},{"g":"g20844","s":"PSC.54","v":-0.74},{"g":"g20844","s":"PSC.63","v":-0.85},{"g":"g20844","s":"PSC.52","v":-1.03},{"g":"g20844","s":"PSC.81","v":-1.1},{"g":"g20844","s":"PSC.57","v":1.52},{"g":"g20844","s":"PSC.75","v":1.6},{"g":"g20844","s":"PSC.83","v":1.3},{"g":"g20844","s":"PSC.78","v":0.5},{"g":"g20844","s":"PSC.69","v":0.85},{"g":"g20844","s":"PSC.71","v":0.98},{"g":"g20844","s":"PSC.59","v":1.22},{"g":"g20844","s":"PSC.67","v":0.92},
{"g":"g14230","s":"PSC.56","v":-0.93},{"g":"g14230","s":"PSC.58","v":-0.45},{"g":"g14230","s":"PSC.64","v":-0.62},{"g":"g14230","s":"PSC.73","v":-0.9},{"g":"g14230","s":"PSC.76","v":-0.93},{"g":"g14230","s":"PSC.61","v":-0.87},{"g":"g14230","s":"PSC.54","v":-0.8},{"g":"g14230","s":"PSC.63","v":-1.03},{"g":"g14230","s":"PSC.52","v":-1.17},{"g":"g14230","s":"PSC.81","v":-0.87},{"g":"g14230","s":"PSC.57","v":1.3},{"g":"g14230","s":"PSC.75","v":1.58},{"g":"g14230","s":"PSC.83","v":1.45},{"g":"g14230","s":"PSC.78","v":0.5},{"g":"g14230","s":"PSC.69","v":0.85},{"g":"g14230","s":"PSC.71","v":1.05},{"g":"g14230","s":"PSC.59","v":1.1},{"g":"g14230","s":"PSC.67","v":0.8},
{"g":"g22065","s":"PSC.56","v":-0.92},{"g":"g22065","s":"PSC.58","v":-0.72},{"g":"g22065","s":"PSC.64","v":-0.78},{"g":"g22065","s":"PSC.73","v":-0.85},{"g":"g22065","s":"PSC.76","v":-0.98},{"g":"g22065","s":"PSC.61","v":-0.62},{"g":"g22065","s":"PSC.54","v":-0.9},{"g":"g22065","s":"PSC.63","v":-1.12},{"g":"g22065","s":"PSC.52","v":-0.95},{"g":"g22065","s":"PSC.81","v":-0.93},{"g":"g22065","s":"PSC.57","v":1.38},{"g":"g22065","s":"PSC.75","v":1.65},{"g":"g22065","s":"PSC.83","v":1.48},{"g":"g22065","s":"PSC.78","v":0.53},{"g":"g22065","s":"PSC.69","v":0.75},{"g":"g22065","s":"PSC.71","v":1.05},{"g":"g22065","s":"PSC.59","v":1.15},{"g":"g22065","s":"PSC.67","v":0.68},
{"g":"g22092","s":"PSC.56","v":-0.72},{"g":"g22092","s":"PSC.58","v":-0.35},{"g":"g22092","s":"PSC.64","v":-0.55},{"g":"g22092","s":"PSC.73","v":-1.12},{"g":"g22092","s":"PSC.76","v":-1.03},{"g":"g22092","s":"PSC.61","v":-0.7},{"g":"g22092","s":"PSC.54","v":-0.82},{"g":"g22092","s":"PSC.63","v":-0.62},{"g":"g22092","s":"PSC.52","v":-1.0},{"g":"g22092","s":"PSC.81","v":-1.28},{"g":"g22092","s":"PSC.57","v":1.65},{"g":"g22092","s":"PSC.75","v":1.67},{"g":"g22092","s":"PSC.83","v":1.42},{"g":"g22092","s":"PSC.78","v":0.6},{"g":"g22092","s":"PSC.69","v":0.58},{"g":"g22092","s":"PSC.71","v":0.65},{"g":"g22092","s":"PSC.59","v":1.15},{"g":"g22092","s":"PSC.67","v":0.95},
{"g":"g11204","s":"PSC.56","v":-0.48},{"g":"g11204","s":"PSC.58","v":-0.68},{"g":"g11204","s":"PSC.64","v":-0.48},{"g":"g11204","s":"PSC.73","v":-0.93},{"g":"g11204","s":"PSC.76","v":-1.15},{"g":"g11204","s":"PSC.61","v":-0.75},{"g":"g11204","s":"PSC.54","v":-0.98},{"g":"g11204","s":"PSC.63","v":-0.76},{"g":"g11204","s":"PSC.52","v":-0.98},{"g":"g11204","s":"PSC.81","v":-1.22},{"g":"g11204","s":"PSC.57","v":1.68},{"g":"g11204","s":"PSC.75","v":1.35},{"g":"g11204","s":"PSC.83","v":1.05},{"g":"g11204","s":"PSC.78","v":0.58},{"g":"g11204","s":"PSC.69","v":0.48},{"g":"g11204","s":"PSC.71","v":0.95},{"g":"g11204","s":"PSC.59","v":1.28},{"g":"g11204","s":"PSC.67","v":0.92},
{"g":"g19847","s":"PSC.56","v":-0.75},{"g":"g19847","s":"PSC.58","v":-0.7},{"g":"g19847","s":"PSC.64","v":-0.76},{"g":"g19847","s":"PSC.73","v":-1.03},{"g":"g19847","s":"PSC.76","v":-0.98},{"g":"g19847","s":"PSC.61","v":-0.7},{"g":"g19847","s":"PSC.54","v":-0.9},{"g":"g19847","s":"PSC.63","v":-0.8},{"g":"g19847","s":"PSC.52","v":-1.03},{"g":"g19847","s":"PSC.81","v":-1.18},{"g":"g19847","s":"PSC.57","v":1.6},{"g":"g19847","s":"PSC.75","v":1.22},{"g":"g19847","s":"PSC.83","v":1.05},{"g":"g19847","s":"PSC.78","v":0.6},{"g":"g19847","s":"PSC.69","v":0.85},{"g":"g19847","s":"PSC.71","v":0.95},{"g":"g19847","s":"PSC.59","v":1.32},{"g":"g19847","s":"PSC.67","v":1.05},
{"g":"g20971","s":"PSC.56","v":-0.77},{"g":"g20971","s":"PSC.58","v":-0.57},{"g":"g20971","s":"PSC.64","v":-0.78},{"g":"g20971","s":"PSC.73","v":-1.03},{"g":"g20971","s":"PSC.76","v":-0.97},{"g":"g20971","s":"PSC.61","v":-0.77},{"g":"g20971","s":"PSC.54","v":-0.92},{"g":"g20971","s":"PSC.63","v":-0.84},{"g":"g20971","s":"PSC.52","v":-1.0},{"g":"g20971","s":"PSC.81","v":-1.15},{"g":"g20971","s":"PSC.57","v":1.72},{"g":"g20971","s":"PSC.75","v":1.2},{"g":"g20971","s":"PSC.83","v":1.05},{"g":"g20971","s":"PSC.78","v":0.6},{"g":"g20971","s":"PSC.69","v":0.62},{"g":"g20971","s":"PSC.71","v":1.15},{"g":"g20971","s":"PSC.59","v":1.3},{"g":"g20971","s":"PSC.67","v":0.8},
{"g":"g6528","s":"PSC.56","v":-0.9},{"g":"g6528","s":"PSC.58","v":-0.6},{"g":"g6528","s":"PSC.64","v":-0.42},{"g":"g6528","s":"PSC.73","v":-1.02},{"g":"g6528","s":"PSC.76","v":-0.42},{"g":"g6528","s":"PSC.61","v":-1.28},{"g":"g6528","s":"PSC.54","v":-1.02},{"g":"g6528","s":"PSC.63","v":-0.85},{"g":"g6528","s":"PSC.52","v":-0.98},{"g":"g6528","s":"PSC.81","v":-1.03},{"g":"g6528","s":"PSC.57","v":0.95},{"g":"g6528","s":"PSC.75","v":1.22},{"g":"g6528","s":"PSC.83","v":1.2},{"g":"g6528","s":"PSC.78","v":0.95},{"g":"g6528","s":"PSC.69","v":0.88},{"g":"g6528","s":"PSC.71","v":1.52},{"g":"g6528","s":"PSC.59","v":0.85},{"g":"g6528","s":"PSC.67","v":0.95},
{"g":"g9542","s":"PSC.56","v":-1.1},{"g":"g9542","s":"PSC.58","v":-0.5},{"g":"g9542","s":"PSC.64","v":-1.0},{"g":"g9542","s":"PSC.73","v":-0.3},{"g":"g9542","s":"PSC.76","v":-0.48},{"g":"g9542","s":"PSC.61","v":-1.25},{"g":"g9542","s":"PSC.54","v":-1.15},{"g":"g9542","s":"PSC.63","v":-1.0},{"g":"g9542","s":"PSC.52","v":-0.87},{"g":"g9542","s":"PSC.81","v":-0.93},{"g":"g9542","s":"PSC.57","v":1.52},{"g":"g9542","s":"PSC.75","v":1.38},{"g":"g9542","s":"PSC.83","v":1.02},{"g":"g9542","s":"PSC.78","v":0.58},{"g":"g9542","s":"PSC.69","v":1.05},{"g":"g9542","s":"PSC.71","v":1.05},{"g":"g9542","s":"PSC.59","v":0.98},{"g":"g9542","s":"PSC.67","v":0.92},
{"g":"g20873","s":"PSC.56","v":-1.0},{"g":"g20873","s":"PSC.58","v":-0.6},{"g":"g20873","s":"PSC.64","v":-0.85},{"g":"g20873","s":"PSC.73","v":-0.42},{"g":"g20873","s":"PSC.76","v":-0.75},{"g":"g20873","s":"PSC.61","v":-1.08},{"g":"g20873","s":"PSC.54","v":-0.95},{"g":"g20873","s":"PSC.63","v":-1.0},{"g":"g20873","s":"PSC.52","v":-1.03},{"g":"g20873","s":"PSC.81","v":-1.08},{"g":"g20873","s":"PSC.57","v":1.25},{"g":"g20873","s":"PSC.75","v":1.25},{"g":"g20873","s":"PSC.83","v":1.12},{"g":"g20873","s":"PSC.78","v":0.42},{"g":"g20873","s":"PSC.69","v":1.18},{"g":"g20873","s":"PSC.71","v":1.32},{"g":"g20873","s":"PSC.59","v":1.05},{"g":"g20873","s":"PSC.67","v":0.78},
{"g":"g14343","s":"PSC.56","v":-0.75},{"g":"g14343","s":"PSC.58","v":-0.85},{"g":"g14343","s":"PSC.64","v":-0.9},{"g":"g14343","s":"PSC.73","v":-0.6},{"g":"g14343","s":"PSC.76","v":-0.68},{"g":"g14343","s":"PSC.61","v":-1.0},{"g":"g14343","s":"PSC.54","v":-0.93},{"g":"g14343","s":"PSC.63","v":-1.2},{"g":"g14343","s":"PSC.52","v":-1.0},{"g":"g14343","s":"PSC.81","v":-0.87},{"g":"g14343","s":"PSC.57","v":1.12},{"g":"g14343","s":"PSC.75","v":1.45},{"g":"g14343","s":"PSC.83","v":1.12},{"g":"g14343","s":"PSC.78","v":0.42},{"g":"g14343","s":"PSC.69","v":1.28},{"g":"g14343","s":"PSC.71","v":1.42},{"g":"g14343","s":"PSC.59","v":0.85},{"g":"g14343","s":"PSC.67","v":0.97},
{"g":"g14341","s":"PSC.56","v":-0.98},{"g":"g14341","s":"PSC.58","v":-0.58},{"g":"g14341","s":"PSC.64","v":-0.85},{"g":"g14341","s":"PSC.73","v":-0.68},{"g":"g14341","s":"PSC.76","v":-0.83},{"g":"g14341","s":"PSC.61","v":-1.12},{"g":"g14341","s":"PSC.54","v":-0.55},{"g":"g14341","s":"PSC.63","v":-1.1},{"g":"g14341","s":"PSC.52","v":-1.08},{"g":"g14341","s":"PSC.81","v":-0.92},{"g":"g14341","s":"PSC.57","v":1.15},{"g":"g14341","s":"PSC.75","v":1.42},{"g":"g14341","s":"PSC.83","v":1.18},{"g":"g14341","s":"PSC.78","v":0.45},{"g":"g14341","s":"PSC.69","v":1.3},{"g":"g14341","s":"PSC.71","v":1.42},{"g":"g14341","s":"PSC.59","v":0.88},{"g":"g14341","s":"PSC.67","v":0.97},
{"g":"g12907","s":"PSC.56","v":-0.84},{"g":"g12907","s":"PSC.58","v":-0.77},{"g":"g12907","s":"PSC.64","v":-0.77},{"g":"g12907","s":"PSC.73","v":-0.85},{"g":"g12907","s":"PSC.76","v":-0.67},{"g":"g12907","s":"PSC.61","v":-1.05},{"g":"g12907","s":"PSC.54","v":-1.03},{"g":"g12907","s":"PSC.63","v":-1.07},{"g":"g12907","s":"PSC.52","v":-1.05},{"g":"g12907","s":"PSC.81","v":-0.87},{"g":"g12907","s":"PSC.57","v":1.5},{"g":"g12907","s":"PSC.75","v":1.18},{"g":"g12907","s":"PSC.83","v":1.35},{"g":"g12907","s":"PSC.78","v":0.45},{"g":"g12907","s":"PSC.69","v":1.3},{"g":"g12907","s":"PSC.71","v":0.88},{"g":"g12907","s":"PSC.59","v":1.0},{"g":"g12907","s":"PSC.67","v":0.9},
{"g":"g24210","s":"PSC.56","v":-0.68},{"g":"g24210","s":"PSC.58","v":-0.93},{"g":"g24210","s":"PSC.64","v":-0.78},{"g":"g24210","s":"PSC.73","v":-0.65},{"g":"g24210","s":"PSC.76","v":-0.83},{"g":"g24210","s":"PSC.61","v":-1.25},{"g":"g24210","s":"PSC.54","v":-0.93},{"g":"g24210","s":"PSC.63","v":-1.07},{"g":"g24210","s":"PSC.52","v":-1.03},{"g":"g24210","s":"PSC.81","v":-0.85},{"g":"g24210","s":"PSC.57","v":1.1},{"g":"g24210","s":"PSC.75","v":1.62},{"g":"g24210","s":"PSC.83","v":1.4},{"g":"g24210","s":"PSC.78","v":0.58},{"g":"g24210","s":"PSC.69","v":1.12},{"g":"g24210","s":"PSC.71","v":0.92},{"g":"g24210","s":"PSC.59","v":1.12},{"g":"g24210","s":"PSC.67","v":0.88},
{"g":"g14213","s":"PSC.56","v":-1.03},{"g":"g14213","s":"PSC.58","v":-0.28},{"g":"g14213","s":"PSC.64","v":-0.66},{"g":"g14213","s":"PSC.73","v":-0.9},{"g":"g14213","s":"PSC.76","v":-1.05},{"g":"g14213","s":"PSC.61","v":-0.93},{"g":"g14213","s":"PSC.54","v":-0.93},{"g":"g14213","s":"PSC.63","v":-1.05},{"g":"g14213","s":"PSC.52","v":-1.0},{"g":"g14213","s":"PSC.81","v":-1.12},{"g":"g14213","s":"PSC.57","v":1.77},{"g":"g14213","s":"PSC.75","v":1.15},{"g":"g14213","s":"PSC.83","v":0.9},{"g":"g14213","s":"PSC.78","v":0.5},{"g":"g14213","s":"PSC.69","v":1.03},{"g":"g14213","s":"PSC.71","v":1.32},{"g":"g14213","s":"PSC.59","v":0.9},{"g":"g14213","s":"PSC.67","v":0.9},
{"g":"g13117","s":"PSC.56","v":-0.95},{"g":"g13117","s":"PSC.58","v":-0.25},{"g":"g13117","s":"PSC.64","v":-0.55},{"g":"g13117","s":"PSC.73","v":-1.12},{"g":"g13117","s":"PSC.76","v":-0.7},{"g":"g13117","s":"PSC.61","v":-1.08},{"g":"g13117","s":"PSC.54","v":-1.08},{"g":"g13117","s":"PSC.63","v":-0.95},{"g":"g13117","s":"PSC.52","v":-0.95},{"g":"g13117","s":"PSC.81","v":-1.2},{"g":"g13117","s":"PSC.57","v":1.5},{"g":"g13117","s":"PSC.75","v":1.3},{"g":"g13117","s":"PSC.83","v":1.0},{"g":"g13117","s":"PSC.78","v":0.55},{"g":"g13117","s":"PSC.69","v":0.95},{"g":"g13117","s":"PSC.71","v":0.95},{"g":"g13117","s":"PSC.59","v":1.1},{"g":"g13117","s":"PSC.67","v":1.28},
{"g":"g11205","s":"PSC.56","v":-0.9},{"g":"g11205","s":"PSC.58","v":-0.58},{"g":"g11205","s":"PSC.64","v":-0.93},{"g":"g11205","s":"PSC.73","v":-0.56},{"g":"g11205","s":"PSC.76","v":-0.7},{"g":"g11205","s":"PSC.61","v":-0.93},{"g":"g11205","s":"PSC.54","v":-1.03},{"g":"g11205","s":"PSC.63","v":-0.93},{"g":"g11205","s":"PSC.52","v":-1.18},{"g":"g11205","s":"PSC.81","v":-0.8},{"g":"g11205","s":"PSC.57","v":1.52},{"g":"g11205","s":"PSC.75","v":1.3},{"g":"g11205","s":"PSC.83","v":0.88},{"g":"g11205","s":"PSC.78","v":0.28},{"g":"g11205","s":"PSC.69","v":0.8},{"g":"g11205","s":"PSC.71","v":1.4},{"g":"g11205","s":"PSC.59","v":1.38},{"g":"g11205","s":"PSC.67","v":1.02},
{"g":"g9743","s":"PSC.56","v":-0.62},{"g":"g9743","s":"PSC.58","v":-1.0},{"g":"g9743","s":"PSC.64","v":-1.03},{"g":"g9743","s":"PSC.73","v":-0.93},{"g":"g9743","s":"PSC.76","v":-0.82},{"g":"g9743","s":"PSC.61","v":-1.02},{"g":"g9743","s":"PSC.54","v":-0.82},{"g":"g9743","s":"PSC.63","v":-1.03},{"g":"g9743","s":"PSC.52","v":-0.72},{"g":"g9743","s":"PSC.81","v":-0.9},{"g":"g9743","s":"PSC.57","v":1.35},{"g":"g9743","s":"PSC.75","v":1.5},{"g":"g9743","s":"PSC.83","v":0.78},{"g":"g9743","s":"PSC.78","v":0.72},{"g":"g9743","s":"PSC.69","v":0.78},{"g":"g9743","s":"PSC.71","v":1.48},{"g":"g9743","s":"PSC.59","v":1.42},{"g":"g9743","s":"PSC.67","v":0.88},
{"g":"g1271","s":"PSC.56","v":-0.98},{"g":"g1271","s":"PSC.58","v":-0.8},{"g":"g1271","s":"PSC.64","v":-0.82},{"g":"g1271","s":"PSC.73","v":-0.78},{"g":"g1271","s":"PSC.76","v":-0.78},{"g":"g1271","s":"PSC.61","v":-0.92},{"g":"g1271","s":"PSC.54","v":-0.78},{"g":"g1271","s":"PSC.63","v":-0.93},{"g":"g1271","s":"PSC.52","v":-0.78},{"g":"g1271","s":"PSC.81","v":-0.87},{"g":"g1271","s":"PSC.57","v":1.5},{"g":"g1271","s":"PSC.75","v":1.38},{"g":"g1271","s":"PSC.83","v":0.6},{"g":"g1271","s":"PSC.78","v":0.68},{"g":"g1271","s":"PSC.69","v":0.72},{"g":"g1271","s":"PSC.71","v":1.75},{"g":"g1271","s":"PSC.59","v":1.0},{"g":"g1271","s":"PSC.67","v":0.92}
]},
"mark":{"type":"rect","stroke":"#999999","strokeWidth":1.9},
"encoding":{
"x":{"field":"s","type":"nominal","scale":{"domain":["PSC.56","PSC.58","PSC.64","PSC.73","PSC.76","PSC.61","PSC.54","PSC.63","PSC.52","PSC.81","PSC.57","PSC.75","PSC.83","PSC.78","PSC.69","PSC.71","PSC.59","PSC.67"],"paddingInner":0,"paddingOuter":0},"axis":{"title":null,"orient":"bottom","domain":false,"ticks":false,"labelAngle":90,"labelAlign":"left","labelBaseline":"middle","labelFontSize":24,"labelPadding":6,"labelOffset":-1,"labelColor":"black","labelFont":"Liberation Sans"}},
"y":{"field":"g","type":"nominal","scale":{"domain":["g7383","g615","g21431","g16951","g16952","g19324","g13241","g10482","g4490","g13327","g7857","g19554","g4006","g3871","g10262","g10440","g24055","g24057","g24056","g9112","g6527","g21337","g4374","g11277","g11276","g11278","g16695","g2841","g10104","g10105","g10106","g20844","g14230","g22065","g22092","g11204","g19847","g20971","g6528","g9542","g20873","g14343","g14341","g12907","g24210","g14213","g13117","g11205","g9743","g1271"],"paddingInner":0,"paddingOuter":0},"axis":{"title":null,"orient":"right","domain":false,"ticks":false,"labelFontSize":26,"labelPadding":8,"labelColor":"black","labelFont":"Liberation Sans","labelOverlap":false,"labelBound":false}},
"color":{"field":"v","type":"quantitative","scale":{"domain":[-1.76,-1.17,-0.59,0,0.59,1.18,1.77],"range":["#4575B4","#91BFDB","#E0F3F8","#FFFFBF","#FEE090","#FC8D59","#D73027"],"interpolate":"rgb","clamp":true},"legend":{"title":null,"orient":"none","legendX":1290,"legendY":141,"gradientLength":399,"gradientThickness":27,"gradientStrokeWidth":0,"values":[-1.5,-1,-0.5,0,0.5,1,1.5],"labelFontSize":26,"labelColor":"black","labelOffset":11,"labelFont":"Liberation Sans","labelExpr":"''+datum.value","labelOverlap":false}}
}}
]}
